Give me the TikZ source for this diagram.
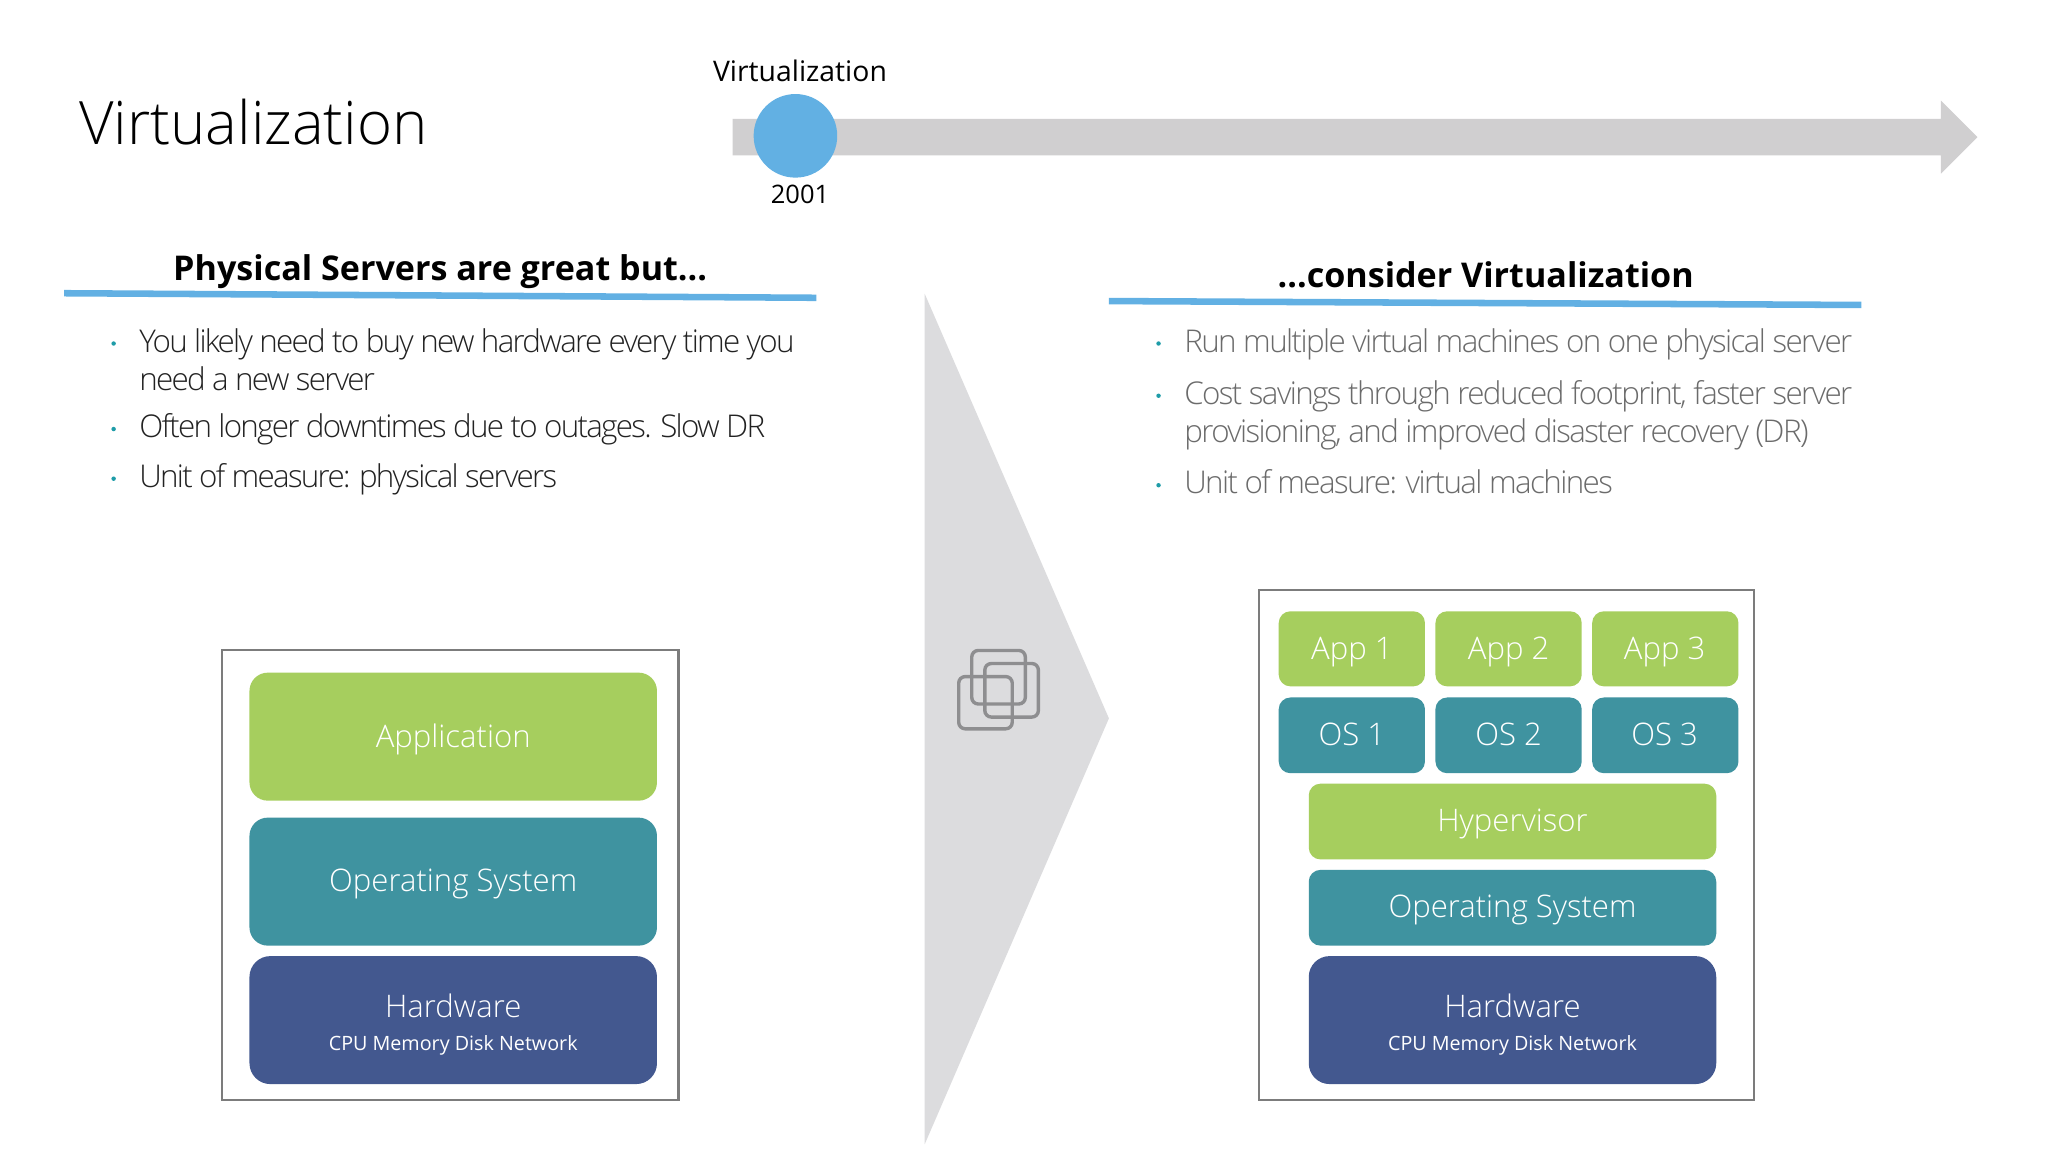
\documentclass[tikz,border=0pt]{standalone}
\usepackage{fontspec}
\setmainfont{Open Sans}
\newfontfamily\lightf{Open Sans Light}[LetterSpace=-5.1]
\newfontfamily\lightg{Open Sans Light}[LetterSpace=-5.5]
\newfontfamily\lighttitle{Open Sans Light}
\definecolor{barg}{HTML}{D0CFD0}
\definecolor{blueb}{HTML}{62B0E3}
\definecolor{chev}{HTML}{DCDCDE}
\definecolor{greenb}{HTML}{A6CE5E}
\definecolor{tealb}{HTML}{3F93A0}
\definecolor{navyb}{HTML}{43588F}
\definecolor{framec}{HTML}{7C7C7C}
\definecolor{iconc}{HTML}{8E8E90}
\definecolor{bullc}{HTML}{1E9CA8}
\definecolor{txtl}{HTML}{222222}
\definecolor{txtr}{HTML}{6B6B6B}
\tikzset{
 x=1pt,y=-1pt,
 lab/.style={text=white,inner sep=0pt,font=\fontsize{23.8}{28}\lighttitle},
 labs/.style={text=white,inner sep=0pt,font=\fontsize{15.1}{18}\selectfont},
 frame/.style={draw=framec,line width=1.6pt,fill=white},
 bodyl/.style={anchor=base west,inner sep=0pt,align=left,text=txtl,font=\fontsize{24}{29}\lightg},
 bodyr/.style={anchor=base west,inner sep=0pt,align=left,text=txtr,font=\fontsize{24}{29}\lightf},
 bull/.style={circle,fill=bullc,inner sep=0pt,minimum size=3.4pt},
 head/.style={inner sep=0pt,font=\fontsize{26.1}{30}\bfseries,text=black},
 small/.style={inner sep=0pt,font=\fontsize{21.7}{28}\selectfont,text=black},
 iconb/.style={draw=iconc,line width=2.6pt,rounded corners=5pt},
}
\newcommand{\blk}[6]{\fill[#2,rounded corners=#1] (#3,#4) rectangle (#5,#6);}
\begin{document}
\begin{tikzpicture}
\useasboundingbox (0,0) rectangle (1568,882);
\fill[white] (0,0) rectangle (1568,882);
% title
\node[anchor=base west,inner sep=0pt,font=\fontsize{45.8}{50}\lighttitle,text=black] (title) at (60.5,111) {Virtualization};
% timeline
\fill[barg] (561,91) -- (1486,91) -- (1486,77) -- (1514,105) -- (1486,133) -- (1486,119) -- (561,119) -- cycle;
\node[circle,fill=blueb,minimum size=64pt,inner sep=0pt] (dot) at (609,104) {};
\node[small] (vlab) at (612.5,54.5) {Virtualization};
\node[inner sep=0pt,font=\fontsize{19.5}{24}\selectfont] (year) at (612.5,149) {2001};
% headers
\node[head] (h1) at (337,208) {Physical Servers are great but...};
\fill[blueb] (49,222) -- (625,225.5) -- (625,230.5) -- (49,227) -- cycle;
\node[head] (h2) at (1137.5,210) {...consider Virtualization};
\fill[blueb] (849,228) -- (1425,231) -- (1425,236) -- (849,233) -- cycle;
% chevron
\fill[chev] (708,225) -- (849,550) -- (708,876) -- cycle;
% icon
\draw[iconb] (744,498) rectangle (785,539);
\draw[iconb] (754,508) rectangle (795,549);
\draw[iconb] (734,518) rectangle (775,558);
% left bullets
\node[bull] (lb1) at (87,263) {};
\node[bodyl] (lt1a) at (106.5,270) {You likely need to buy new hardware every time you};
\node[bodyl] (lt1b) at (106.5,299) {need a new server};
\node[bull] (lb2) at (87,328.5) {};
\node[bodyl] (lt2) at (106.5,335) {Often longer downtimes due to outages. Slow DR};
\node[bull] (lb3) at (87,366.5) {};
\node[bodyl] (lt3) at (106.5,373) {Unit of measure: physical servers};
% right bullets
\node[bull] (rb1) at (887,263) {};
\node[bodyr] (rt1) at (906.5,270) {Run multiple virtual machines on one physical server};
\node[bull] (rb2) at (887,303) {};
\node[bodyr] (rt2a) at (906.5,310) {Cost savings through reduced footprint, faster server};
\node[bodyr] (rt2b) at (906.5,339) {provisioning, and improved disaster recovery (DR)};
\node[bull] (rb3) at (887,371.5) {};
\node[bodyr] (rt3) at (906.5,378) {Unit of measure: virtual machines};
% left stack
\draw[frame] (170,498) rectangle (519.5,842);
\blk{14pt}{greenb}{191}{515}{503}{613}
\node[lab] (a) at (347,566) {Application};
\blk{14pt}{tealb}{191}{626}{503}{724}
\node[lab] (b) at (347,677) {Operating System};
\blk{16pt}{navyb}{191}{732}{503}{830}
\node[lab] (c) at (347,770) {Hardware};
\node[labs] (d) at (347,800) {CPU Memory Disk Network};
% right stack
\draw[frame] (964,452) rectangle (1343,842);
\blk{9pt}{greenb}{979}{468}{1091}{525.5}
\blk{9pt}{greenb}{1099}{468}{1211}{525.5}
\blk{9pt}{greenb}{1219}{468}{1331}{525.5}
\node[lab] (a1) at (1035,499) {App 1};
\node[lab] (a2) at (1155,499) {App 2};
\node[lab] (a3) at (1274.5,499) {App 3};
\blk{9pt}{tealb}{979}{534}{1091}{592}
\blk{9pt}{tealb}{1099}{534}{1211}{592}
\blk{9pt}{tealb}{1219}{534}{1331}{592}
\node[lab] (o1) at (1035,562) {OS 1};
\node[lab] (o2) at (1155,562) {OS 2};
\node[lab] (o3) at (1274.5,562) {OS 3};
\blk{9pt}{greenb}{1002}{600}{1314}{658}
\node[lab] (hy) at (1158,631) {Hypervisor};
\blk{9pt}{tealb}{1002}{666}{1314}{724}
\node[lab] (os) at (1158,697) {Operating System};
\blk{16pt}{navyb}{1002}{732}{1314}{830}
\node[lab] (hw) at (1158,770) {Hardware};
\node[labs] (hs) at (1158,800) {CPU Memory Disk Network};
\end{tikzpicture}
\end{document}
